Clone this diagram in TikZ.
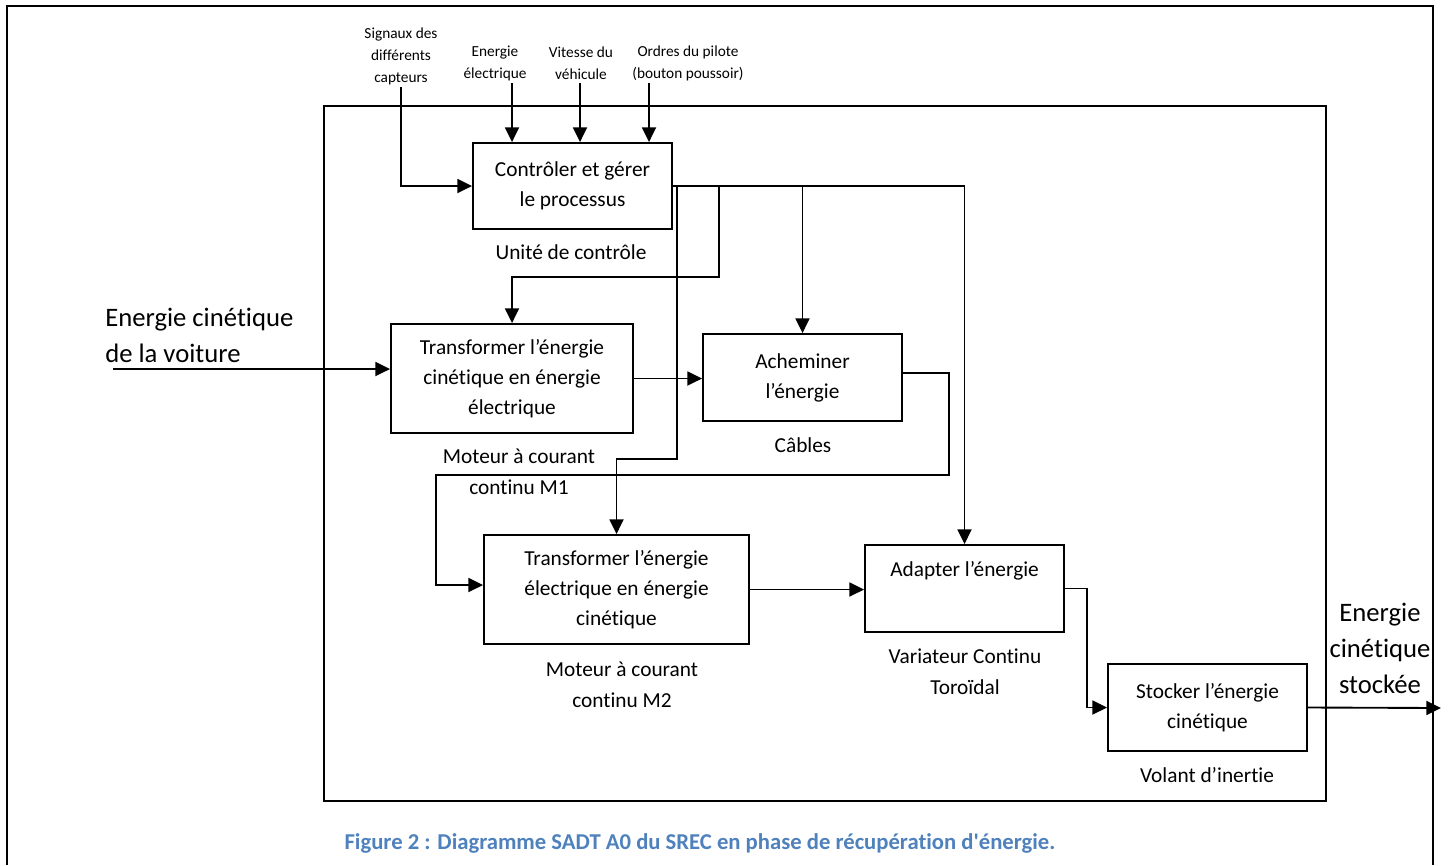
\documentclass[tikz,border=0pt]{standalone}
\usepackage{fontspec}
\setmainfont{Carlito}[Ligatures={NoCommon}]
\usetikzlibrary{arrows.meta,calc}
\definecolor{capblue}{HTML}{4F81BD}
\begin{document}
\begin{tikzpicture}[x=0.75pt,y=-0.75pt,
  box/.style={draw,line width=1.4pt,align=center,inner sep=0pt,font=\fontsize{16}{22.5}\selectfont},
  lbl/.style={align=center,inner sep=0pt,font=\fontsize{16}{23}\selectfont},
  small/.style={align=center,inner sep=0pt,font=\fontsize{11.5}{16.5}\selectfont},
  big/.style={inner sep=0pt,font=\fontsize{20}{27}\selectfont},
  flow/.style={line width=1.4pt,-{Triangle[length=11pt,width=10.5pt]}},
  wire/.style={line width=1.4pt},
  frame/.style={line width=1.9pt}]
\useasboundingbox (0,0) rectangle (1448,865);

% outer frame
\draw[frame] (7,865) -- (7,6) -- (1433,6) -- (1433,865);
% A0 boundary
\draw[wire] (324,106) rectangle (1326,801);

% boxes
\node[box,minimum width=149.25pt,minimum height=64.5pt] (C) at (572.5,186) {Contrôler et gérer\\le processus};
\node[box,minimum width=181.5pt,minimum height=81.75pt] (M1) at (512,378.5) {Transformer l’énergie\\cinétique en énergie\\électrique};
\node[box,minimum width=149.25pt,minimum height=65.25pt] (A) at (802.5,377.5) {Acheminer\\l’énergie};
\node[box,minimum width=198.75pt,minimum height=81.75pt] (M2) at (616.5,589.5) {Transformer l’énergie\\électrique en énergie\\cinétique};
\node[box,minimum width=149.25pt,minimum height=65.25pt] (V) at (964.5,588.5) {Adapter l’énergie\\\strut};
\node[box,minimum width=149.25pt,minimum height=65.25pt] (S) at (1207.5,707.5) {Stocker l’énergie\\cinétique};

% mechanism labels
\node[lbl] (lC) at (571,252) {Unité de contrôle};
\node[lbl] (lM1) at (519,471.5) {Moteur à courant\\continu M1};
\node[lbl] (lA) at (803,445) {Câbles};
\node[lbl] (lM2) at (622,684.5) {Moteur à courant\\continu M2};
\node[lbl] (lV) at (965,672) {Variateur Continu\\Toroïdal};
\node[lbl] (lS) at (1207,775) {Volant d’inertie};

% control labels
\node[small] (tS) at (401,56) {Signaux des\\différents\\capteurs};
\node[small] (tE) at (495,63) {Energie\\électrique};
\node[small] (tVi) at (581,63) {Vitesse du\\véhicule};
\node[small] (tO) at (688,63) {Ordres du pilote\\(bouton poussoir)};

% input / output labels
\node[big,anchor=west,align=left] (tin) at (105,335) {Energie cinétique\\de la voiture};
\node[big,align=center] (tout) at (1380,648.5) {Energie\\cinétique\\stockée};

% caption
\node[inner sep=0pt,text=capblue,font=\fontsize{17}{20}\selectfont\bfseries] (cap) at (700,843) {Figure 2 : Diagramme SADT A0 du SREC en phase de récupération d\textquotesingle énergie.};

% coordinates
\coordinate (s0) at (401,87);
\coordinate (e0) at (512,83);
\coordinate (v0) at (580,83);
\coordinate (o0) at (649,83);
\coordinate (in0) at (113,369);
\coordinate (j1) at (719,277);
\coordinate (j2) at (677,459);
\coordinate (j3) at (949,475);
\coordinate (j4) at (436,585);
\coordinate (j5) at (1087,650);
\coordinate (out) at (1441,708);

% controls into C
\draw[flow] (s0) |- (C.west);
\draw[flow] (e0) -- (e0 |- C.north);
\draw[flow] (v0) -- (v0 |- C.north);
\draw[flow] (o0) -- (o0 |- C.north);

% outputs of C
\draw[flow] (C.east) -| (V.north);
\draw[flow] (C.east -| A.north) -- (A.north);
\draw[flow] (C.east -| j1) -- (j1) -| (M1.north);
\draw[flow] (C.east -| j2) -- (j2) -| (M2.north);

% main energy chain
\draw[flow] (in0) -- (in0 -| M1.west);
\draw[flow] (M1.east) -- (M1.east -| A.west);
\draw[flow] ($(A.east)+(0,-4.5)$) -| (j3) -| (j4) -- (j4 -| M2.west);
\draw[flow] (M2.east) -- (M2.east -| V.west);
\draw[flow] (V.east) -- (V.east -| j5) |- (S.west);
\draw[flow] (S.east) -- (out);
\end{tikzpicture}
\end{document}
